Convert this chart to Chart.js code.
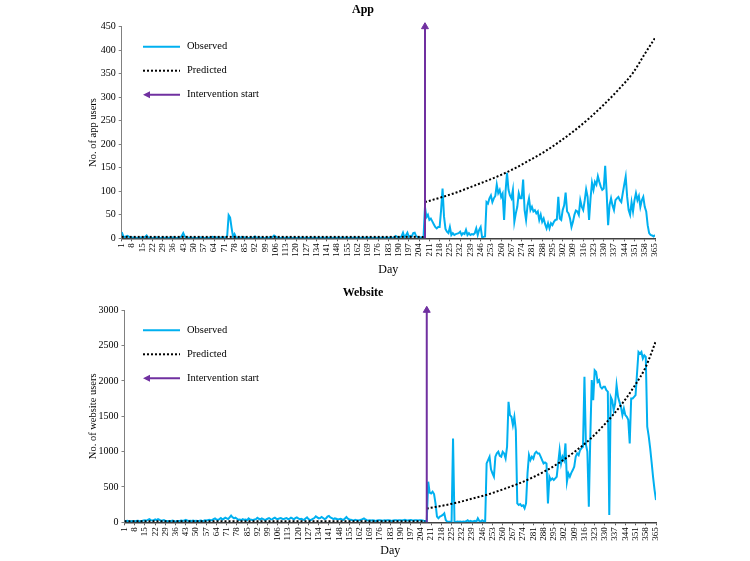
<!DOCTYPE html>
<html>
<head>
<meta charset="utf-8">
<script src="https://cdn.jsdelivr.net/npm/chart.js@4.4.0/dist/chart.umd.min.js"></script>
<style>
  body { margin: 0; background: #fff; }
  canvas { display: block; }
</style>
</head>
<body>
<canvas id="appChart" width="750" height="281"></canvas>
<canvas id="webChart" width="750" height="280"></canvas>
<script>
// days 1..365 and the labelled ticks (every 7th day)
const days = [];
for (let d = 1; d <= 365; d++) days.push(d);
const tickDays = [];
for (let d = 1; d <= 365; d += 7) tickDays.push(d);

const interventionDay = 208;

// observed daily app users, one value per day
const appObserved = [
  13, 5, 2, 4, 5, 3, 1, 2, 1, 1,        // 1-10
  1, 0, 1, 2, 1, 1, 3, 6, 2, 1,         // 11-20
  1, 0, 1, 1, 2, 1, 0, 1, 2, 1,         // 21-30
  1, 0, 1, 1, 1, 2, 1, 0, 1, 1,         // 31-40
  2, 5, 11, 4, 1, 2, 1, 0, 1, 1,        // 41-50
  1, 0, 1, 1, 2, 1, 1, 0, 1, 1,         // 51-60
  1, 2, 3, 2, 1, 2, 1, 1, 2, 1,         // 61-70
  2, 1, 5, 49, 44, 22, 3, 9, 2, 1,      // 71-80
  2, 1, 3, 1, 2, 1, 0, 1, 2, 1,         // 81-90
  2, 4, 1, 1, 2, 1, 1, 0, 1, 2,         // 91-100
  1, 2, 1, 3, 6, 4, 1, 1, 0, 1,         // 101-110
  1, 1, 0, 1, 1, 1, 0, 1, 1, 0,         // 111-120
  1, 0, 1, 1, 0, 1, 1, 0, 1, 0,         // 121-130
  1, 1, 0, 1, 0, 1, 1, 0, 1, 1,         // 131-140
  0, 1, 1, 0, 1, 0, 1, 1, 0, 1,         // 141-150
  1, 0, 1, 1, 0, 1, 0, 1, 1, 0,         // 151-160
  1, 1, 0, 1, 0, 1, 1, 0, 1, 1,         // 161-170
  0, 1, 0, 1, 1, 0, 1, 1, 0, 1,         // 171-180
  1, 0, 1, 1, 2, 1, 2, 5, 3, 1,         // 181-190
  2, 4, 12, 2, 6, 12, 3, 5, 4, 11,      // 191-200
  12, 4, 3, 1, 2, 1, 2,                 // 201-207
  67, 45, 50, 39, 42, 36, 30, 24, 21, 24,        // 208-217
  24, 60, 106, 46, 20, 14, 11, 24, 7, 11,        // 218-227
  7, 9, 10, 11, 14, 7, 11, 9, 18, 7,             // 228-237
  11, 7, 9, 8, 11, 21, 7, 18, 24, 2,             // 238-247
  3, 4, 77, 74, 85, 91, 77, 85, 90, 114,         // 248-257
  96, 103, 88, 95, 39, 100, 139, 103, 91, 85,    // 258-267
  103, 35, 53, 67, 96, 85, 85, 125, 60, 39,      // 268-277
  70, 85, 60, 67, 57, 60, 53, 57, 39, 50,        // 278-287
  35, 42, 30, 21, 32, 21, 32, 28, 35, 39,        // 288-297
  40, 88, 42, 39, 60, 70, 97, 57, 53, 42,        // 298-307
  24, 35, 50, 59, 57, 50, 81, 67, 60, 80,        // 308-317
  104, 88, 39, 85, 118, 103, 120, 114, 132, 120, // 318-327
  110, 103, 106, 154, 96, 28, 71, 85, 70, 60,    // 328-337
  81, 85, 88, 81, 77, 96, 114, 131, 88, 60,      // 338-347
  50, 77, 57, 81, 96, 81, 90, 67, 81, 88,        // 348-357
  67, 57, 28, 11, 7, 6, 4, 7                     // 358-365
];

// observed daily website users, one value per day
const webObserved = [
  20, 18, 22, 15, 12, 18, 16, 14, 20, 22,     // 1-10
  18, 15, 20, 25, 30, 22, 35, 45, 30, 25,     // 11-20
  28, 40, 30, 45, 35, 20, 25, 30, 20, 18,     // 21-30
  15, 20, 18, 25, 15, 12, 18, 20, 22, 25,     // 31-40
  20, 28, 35, 25, 20, 22, 18, 25, 20, 22,     // 41-50
  18, 20, 25, 22, 20, 28, 25, 30, 35, 28,     // 51-60
  30, 45, 55, 40, 35, 45, 60, 40, 50, 65,     // 61-70
  55, 45, 70, 95, 70, 55, 65, 50, 35, 40,     // 71-80
  30, 45, 35, 40, 30, 55, 40, 35, 30, 40,     // 81-90
  45, 65, 50, 40, 55, 45, 35, 40, 50, 60,     // 91-100
  45, 40, 55, 65, 50, 45, 55, 60, 50, 45,     // 101-110
  55, 60, 45, 50, 65, 55, 40, 60, 70, 55,     // 111-120
  45, 50, 40, 35, 55, 70, 45, 30, 35, 50,     // 121-130
  60, 85, 70, 55, 60, 75, 60, 45, 55, 80,     // 131-140
  90, 70, 60, 45, 55, 50, 40, 45, 50, 40,     // 141-150
  35, 55, 75, 50, 40, 35, 30, 25, 35, 30,     // 151-160
  25, 30, 35, 45, 55, 40, 30, 25, 30, 25,     // 161-170
  30, 25, 20, 25, 30, 28, 25, 22, 30, 25,     // 171-180
  28, 30, 25, 20, 25, 30, 28, 25, 30, 28,     // 181-190
  25, 30, 35, 28, 25, 30, 32, 28, 25, 30,     // 191-200
  28, 25, 30, 28, 25, 22, 20,                 // 201-207
  20, 574, 420, 409, 433, 400, 268, 80, 57, 80,               // 208-217
  90, 104, 127, 32, 9, 9, 9, 9, 1187, 9,                      // 218-227
  5, 10, 8, 12, 5, 10, 8, 15, 30, 10,                         // 228-237
  20, 8, 15, 20, 10, 57, 20, 10, 30, 15,                      // 238-247
  9, 833, 880, 928, 750, 692, 645, 928, 975, 999,             // 248-257
  940, 928, 999, 975, 904, 1070, 1705, 1517, 1493, 1375,      // 258-267
  1493, 1304, 268, 245, 259, 231, 240, 198, 268, 692,         // 268-277
  951, 880, 928, 900, 975, 999, 975, 975, 928, 880,           // 278-287
  833, 847, 833, 268, 645, 598, 621, 598, 621, 645,           // 288-297
  833, 1022, 833, 928, 880, 1116, 574, 692, 645, 700,         // 298-307
  739, 786, 928, 975, 951, 1022, 1050, 1069, 2058, 1100,      // 308-317
  1000, 221, 1200, 2012, 1728, 2152, 2129, 1988, 2012, 1917,  // 318-327
  1893, 1917, 1917, 1870, 1850, 104, 1775, 1728, 1587, 1681,  // 328-337
  1941, 1775, 1700, 1634, 1517, 1610, 1517, 1493, 1450, 1116, // 338-347
  1752, 1752, 1775, 1799, 2105, 2411, 2387, 2411, 2317, 2364, // 348-357
  2340, 1352, 1220, 1050, 850, 640, 460, 315                  // 358-365
];

// predicted (counterfactual) curves, read at a few days
const prePredDays = [1, 207];
const appPrePredicted = [3, 3];
const webPrePredicted = [15, 15];
const predDays = [208, 220, 230, 240, 250, 260, 270, 280, 290, 300, 310, 320, 330, 340, 350, 358, 365];
const appPredicted = [77, 88, 98, 110, 122, 135, 150, 167, 185, 206, 229, 255, 284, 316, 352, 392, 426];
const webPredicted = [195, 240, 285, 340, 395, 465, 540, 630, 735, 860, 1010, 1180, 1390, 1630, 1920, 2200, 2570];

const cyan = '#00B0F0';
const purple = '#7030A0';
const serif = '"Liberation Serif", "Times New Roman", serif';
Chart.defaults.font.family = serif;
Chart.defaults.color = '#000';

const toPoints = (xs, ys) => xs.map((x, i) => ({ x: x, y: ys[i] }));

// legend drawn inside the plot, top-left
const sideLegend = {
  id: 'sideLegend',
  afterDraw(chart) {
    const ctx = chart.ctx;
    const top = chart.chartArea.top;
    const x0 = 143, x1 = 180, tx = 187;
    const rows = [top + 20, top + 44, top + 68];
    ctx.save();
    ctx.font = '10.5px ' + serif;
    ctx.textBaseline = 'middle';
    ctx.fillStyle = '#000';
    ctx.lineWidth = 2;

    ctx.strokeStyle = cyan;
    ctx.beginPath(); ctx.moveTo(x0, rows[0]); ctx.lineTo(x1, rows[0]); ctx.stroke();
    ctx.fillText('Observed', tx, rows[0]);

    ctx.strokeStyle = '#000';
    ctx.setLineDash([2, 2]);
    ctx.beginPath(); ctx.moveTo(x0, rows[1]); ctx.lineTo(x1, rows[1]); ctx.stroke();
    ctx.setLineDash([]);
    ctx.fillText('Predicted', tx, rows[1]);

    ctx.strokeStyle = purple;
    ctx.fillStyle = purple;
    ctx.beginPath(); ctx.moveTo(x0 + 3, rows[2]); ctx.lineTo(x1, rows[2]); ctx.stroke();
    ctx.beginPath();
    ctx.moveTo(x0, rows[2]); ctx.lineTo(x0 + 7, rows[2] - 3.5); ctx.lineTo(x0 + 7, rows[2] + 3.5);
    ctx.closePath(); ctx.fill();
    ctx.fillStyle = '#000';
    ctx.fillText('Intervention start', tx, rows[2]);
    ctx.restore();
  }
};

function buildChart(id, o) {
  return new Chart(document.getElementById(id), {
    type: 'line',
    data: {
      datasets: [
        {
          label: 'Intervention start',
          data: [{ x: interventionDay, y: 0 }, { x: interventionDay, y: o.yMax }],
          borderColor: purple, borderWidth: 2,
          pointRadius: [0, 4], pointStyle: 'triangle',
          pointBackgroundColor: purple, pointBorderColor: purple, pointBorderWidth: 1,
          clip: false
        },
        {
          label: 'Predicted',
          data: toPoints(prePredDays, o.prePredicted),
          borderColor: '#000', borderWidth: 2, borderDash: [2, 2], pointRadius: 0
        },
        {
          label: 'Predicted',
          data: toPoints(predDays, o.predicted),
          borderColor: '#000', borderWidth: 2, borderDash: [2, 2], pointRadius: 0,
          cubicInterpolationMode: 'monotone'
        },
        {
          label: 'Observed',
          data: toPoints(days, o.observed),
          borderColor: cyan, borderWidth: 2, pointRadius: 0, tension: 0
        }
      ]
    },
    options: {
      responsive: false,
      animation: false,
      devicePixelRatio: 1,
      layout: { padding: { left: o.padLeft, right: o.padRight, top: 0, bottom: 0 } },
      plugins: {
        legend: { display: false },
        tooltip: { enabled: false },
        title: {
          display: true,
          text: o.title,
          color: '#000',
          font: { size: 12, weight: 'bold', family: serif },
          padding: { top: o.titleTop, bottom: o.titleBottom }
        }
      },
      scales: {
        x: {
          type: 'linear',
          min: 1, max: 365,
          afterBuildTicks: (s) => { s.ticks = tickDays.map(v => ({ value: v })); },
          afterFit: (s) => { s.height = o.xHeight; },
          ticks: { autoSkip: false, minRotation: 90, maxRotation: 90, padding: 2, font: { size: 9 }, color: '#000' },
          grid: { drawOnChartArea: false, tickLength: 3, color: '#595959' },
          border: { color: '#404040', width: 1.5 },
          title: { display: true, text: 'Day', font: { size: 12 }, color: '#000', padding: { top: 0, bottom: o.dayBottom } }
        },
        y: {
          min: 0, max: o.yMax,
          afterFit: (s) => { s.width = o.yWidth; },
          ticks: { stepSize: o.yStep, padding: 3, font: { size: 10 }, color: '#000', callback: (v) => String(v) },
          grid: { drawOnChartArea: false, tickLength: 3, color: '#808080' },
          border: { color: '#808080', width: 1 },
          title: { display: true, text: o.yTitle, font: { size: 10.5 }, color: '#000', padding: { top: o.yTitlePad, bottom: 0 } }
        }
      }
    },
    plugins: [sideLegend]
  });
}

buildChart('appChart', {
  title: 'App', yTitle: 'No. of app users',
  observed: appObserved, prePredicted: appPrePredicted, predicted: appPredicted,
  yMax: 450, yStep: 50,
  padLeft: 71, padRight: 95, yWidth: 50.7, yTitlePad: 15.7,
  titleTop: 2.5, titleBottom: 9.8, xHeight: 42.7, dayBottom: 4.3
});

buildChart('webChart', {
  title: 'Website', yTitle: 'No. of website users',
  observed: webObserved, prePredicted: webPrePredicted, predicted: webPredicted,
  yMax: 3000, yStep: 500,
  padLeft: 70, padRight: 94, yWidth: 54.5, yTitlePad: 16.7,
  titleTop: 4.3, titleBottom: 10.6, xHeight: 38.7, dayBottom: 2.8
});
</script>
</body>
</html>
